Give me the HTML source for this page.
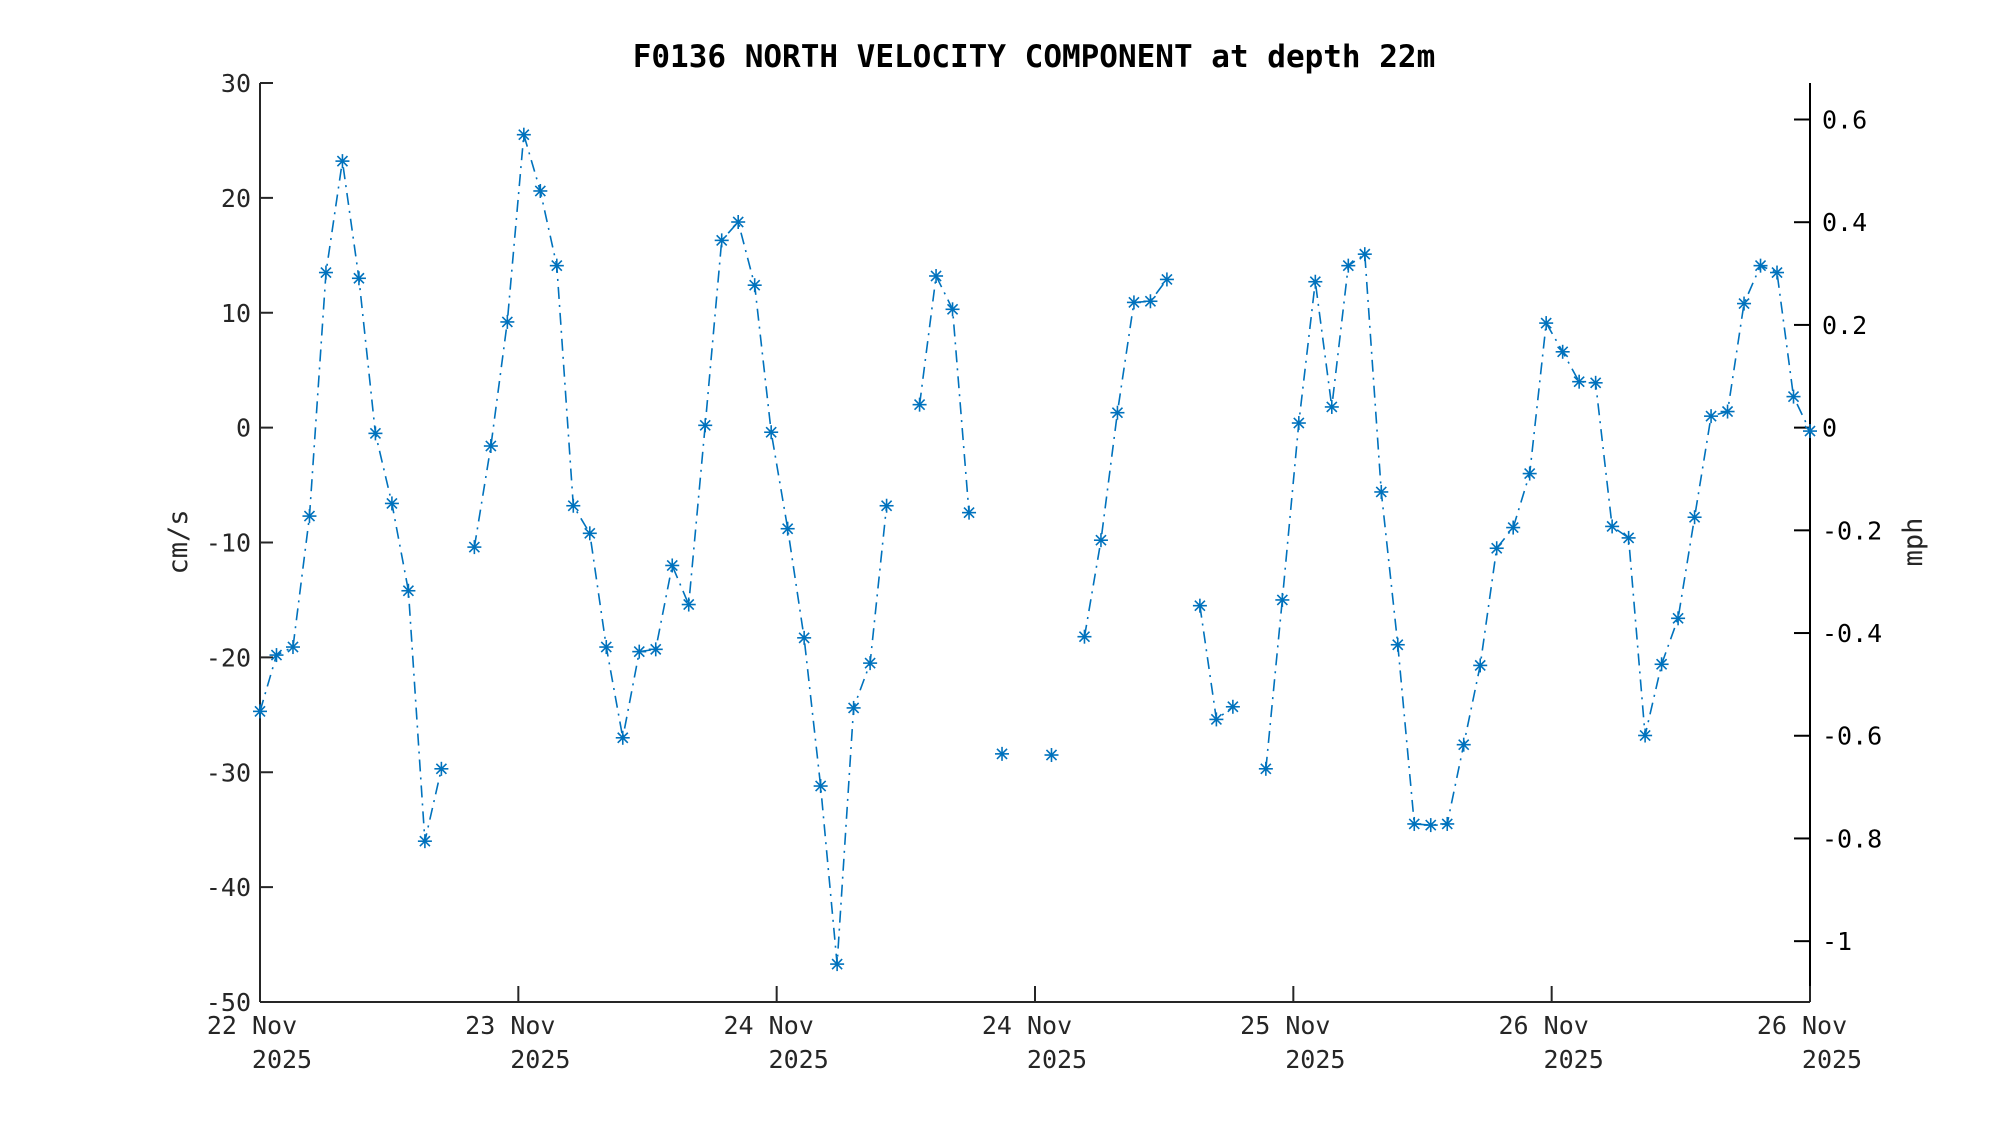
<!DOCTYPE html>
<html><head><meta charset="utf-8"><style>
html,body{margin:0;padding:0;background:#fff;}
svg{display:block;font-family:"DejaVu Sans Mono","Liberation Mono",monospace;}
</style></head><body>
<svg id="chart" width="2000" height="1125" viewBox="0 0 2000 1125" xmlns="http://www.w3.org/2000/svg">
<rect width="2000" height="1125" fill="#fff"/>
<text x="1034" y="67" text-anchor="middle" font-size="31" font-weight="bold" fill="#000">F0136 NORTH VELOCITY COMPONENT at depth 22m</text>
<g id="axes"></g>
<g id="series"></g>
<text transform="translate(187,542) rotate(-90)" text-anchor="middle" font-size="27" fill="#262626">cm/s</text>
<text transform="translate(1922,542) rotate(-90)" text-anchor="middle" font-size="27" fill="#262626">mph</text>
</svg>
<script>
const values = [-24.7,-19.8,-19.1,-7.7,13.5,23.2,13,-0.5,-6.6,-14.2,-36,-29.7,null,-10.4,-1.6,9.2,25.5,20.6,14.1,-6.8,-9.2,-19.1,-27,-19.5,-19.3,-12,-15.4,0.2,16.3,17.9,12.4,-0.4,-8.8,-18.3,-31.2,-46.7,-24.4,-20.5,-6.8,null,2,13.2,10.3,-7.4,null,-28.4,null,null,-28.5,null,-18.2,-9.8,1.3,10.9,11,12.9,null,-15.5,-25.4,-24.3,null,-29.7,-15,0.4,12.7,1.8,14.1,15.1,-5.6,-18.9,-34.5,-34.6,-34.5,-27.6,-20.7,-10.5,-8.7,-4,9.1,6.6,4,3.9,-8.6,-9.6,-26.8,-20.6,-16.6,-7.8,1,1.4,10.8,14.1,13.5,2.7,-0.3];
const yTicks = [30,20,10,0,-10,-20,-30,-40,-50];
const mphTicks = [0.6,0.4,0.2,0,-0.2,-0.4,-0.6,-0.8,-1];
const mphTickLabels = ["0.6","0.4","0.2","0","-0.2","-0.4","-0.6","-0.8","-1"];
const xTickLabels1 = ["22 Nov","23 Nov","24 Nov","24 Nov","25 Nov","26 Nov","26 Nov"];
const xTickLabels2 = ["2025","2025","2025","2025","2025","2025","2025"];

const NS="http://www.w3.org/2000/svg";
const L=260,R=1810,T=83,B=1002;
const yMin=-50,yMax=30,nPts=values.length;
const xs=i=>L+(R-L)*i/(nPts-1);
const ys=v=>B-(B-T)*(v-yMin)/(yMax-yMin);
const CMS_PER_MPH=44.704;
function mk(tag,attrs,parent){const e=document.createElementNS(NS,tag);for(const k in attrs)e.setAttribute(k,attrs[k]);parent.appendChild(e);return e;}
const ax=document.getElementById('axes');
let e;
e=mk('line',{x1:L,y1:T,x2:L,y2:B,stroke:'#262626','stroke-width':2},ax);


e=mk('line',{x1:L,y1:B,x2:R,y2:B,stroke:'#262626','stroke-width':2},ax);


e=mk('line',{x1:R,y1:T,x2:R,y2:B,stroke:'#000','stroke-width':2},ax);


yTicks.forEach(v=>{const y=ys(v);
 mk('line',{x1:L,y1:y,x2:L+13,y2:y,stroke:'#262626','stroke-width':2},ax);
 const t=mk('text',{x:L-9,y:y+9,'text-anchor':'end','font-size':25,fill:'#262626'},ax);t.textContent=v;
 
 
});
mphTicks.forEach((v,i)=>{const y=ys(v*CMS_PER_MPH);
 mk('line',{x1:R-16,y1:y,x2:R,y2:y,stroke:'#000','stroke-width':2},ax);
 const t=mk('text',{x:R+12,y:y+9,'font-size':25,fill:'#000'},ax);t.textContent=mphTickLabels[i];
 
 
});
xTickLabels1.forEach((lab,i)=>{const x=L+(R-L)*i/(xTickLabels1.length-1);
 mk('line',{x1:x,y1:B,x2:x,y2:B-16,stroke:'#262626','stroke-width':2},ax);
 const t=mk('text',{x:x-8,y:1034,'text-anchor':'middle','font-size':25,fill:'#262626'},ax);t.textContent=lab;
 
 
 const t2=mk('text',{x:x+22,y:1068,'text-anchor':'middle','font-size':25,fill:'#262626'},ax);t2.textContent=xTickLabels2[i];
 
 
});
const sg=document.getElementById('series');
let seg=[];
function flush(){if(seg.length>1){const p=mk('polyline',{points:seg.join(' '),fill:'none',stroke:'#0072BD','stroke-width':1.6,'stroke-dasharray':'12 6 2 6'},sg);
 
 }
 seg=[];}
values.forEach((v,i)=>{if(v===null){flush();return;}seg.push(xs(i).toFixed(1)+','+ys(v).toFixed(1));});
flush();
values.forEach((v,i)=>{if(v===null)return;const x=xs(i),y=ys(v),r=7;
 const g=mk('g',{stroke:'#0072BD','stroke-width':1.6},sg);
 
 
 mk('line',{x1:x-r,y1:y,x2:x+r,y2:y},g);
 mk('line',{x1:x,y1:y-r,x2:x,y2:y+r},g);
 const d=r*0.72;
 mk('line',{x1:x-d,y1:y-d,x2:x+d,y2:y+d},g);
 mk('line',{x1:x-d,y1:y+d,x2:x+d,y2:y-d},g);
});
</script>
</body></html>
